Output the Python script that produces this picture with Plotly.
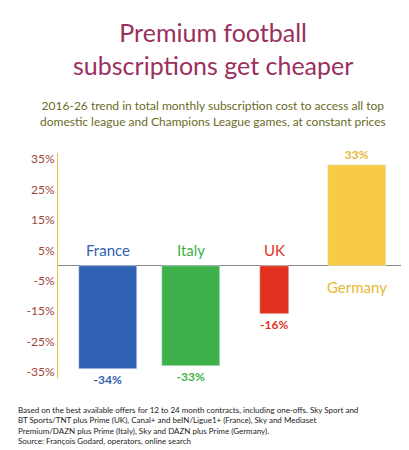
import plotly.graph_objects as go

countries = ["France", "Italy", "UK", "Germany"]
values = [-34, -33, -16, 33]
colors = ["#2f62b3", "#3fb14b", "#e2321f", "#f8cb45"]
label_colors = ["#2f62b3", "#3fb14b", "#e2321f", "#e8b830"]
xpos = [0, 1, 2, 3]
widths = [0.7, 0.7, 0.35, 0.7]
tickvals = [-35, -25, -15, -5, 5, 15, 25, 35]
ticktext = ["-35%", "-25%", "-15%", "-5%", "5%", "15%", "25%", "35%"]

fig = go.Figure(go.Bar(
    x=xpos, y=values, width=widths, marker_color=colors,
    text=[f"<b>{v}%</b>" for v in values], textposition="outside",
    textfont=dict(family="Lato", size=12, color=label_colors),
    cliponaxis=False, showlegend=False))

name_y = [5, 5, 5, -7]
for x, n, c, ny in zip(xpos, countries, label_colors, name_y):
    fig.add_annotation(x=x, y=ny, text=n, showarrow=False,
                       font=dict(family="Lato", size=15, color=c))

L, R = 50, 10
cx = (409 / 2 - L) / (409 - L - R)
fig.update_layout(
    width=409, height=450, paper_bgcolor="white", plot_bgcolor="white",
    margin=dict(l=L, r=R, t=145, b=80),
    bargap=0,
    xaxis=dict(visible=False, range=[-0.6, 3.6]),
    yaxis=dict(range=[-37, 37], tickvals=tickvals, ticktext=ticktext, showgrid=False,
               zeroline=True, zerolinecolor="#888888", zerolinewidth=1,
               showline=True, linecolor="#e8c33c", linewidth=1,
               tickfont=dict(family="Lato", size=12, color="#a0453a")),
)
fig.add_annotation(xref="paper", yref="paper", x=cx, y=1.0, yshift=138, xanchor="center", yanchor="top",
                   text="Premium football<br>subscriptions get cheaper", showarrow=False, align="center",
                   font=dict(family="Lato", size=25, color="#9b2f5e"))
fig.add_annotation(xref="paper", yref="paper", x=cx, y=1.0, yshift=57, xanchor="center", yanchor="top",
                   text="2016-26 trend in total monthly subscription cost to access all top<br>domestic league and Champions League games, at constant prices",
                   showarrow=False, align="center",
                   font=dict(family="Lato", size=12, color="#6b6a1e"))
fig.add_annotation(xref="paper", yref="paper", x=-0.12, y=-0.11, xanchor="left", yanchor="top",
                   text="Based on the best available offers for 12 to 24 month contracts, including one-offs. Sky Sport and<br>BT Sports/TNT plus Prime (UK), Canal+ and beIN/Ligue1+ (France), Sky and Mediaset<br>Premium/DAZN plus Prime (Italy), Sky and DAZN plus Prime (Germany).<br>Source: François Godard, operators, online search",
                   showarrow=False, align="left",
                   font=dict(family="Lato", size=8, color="#222222"))
fig.write_html("out.html")
